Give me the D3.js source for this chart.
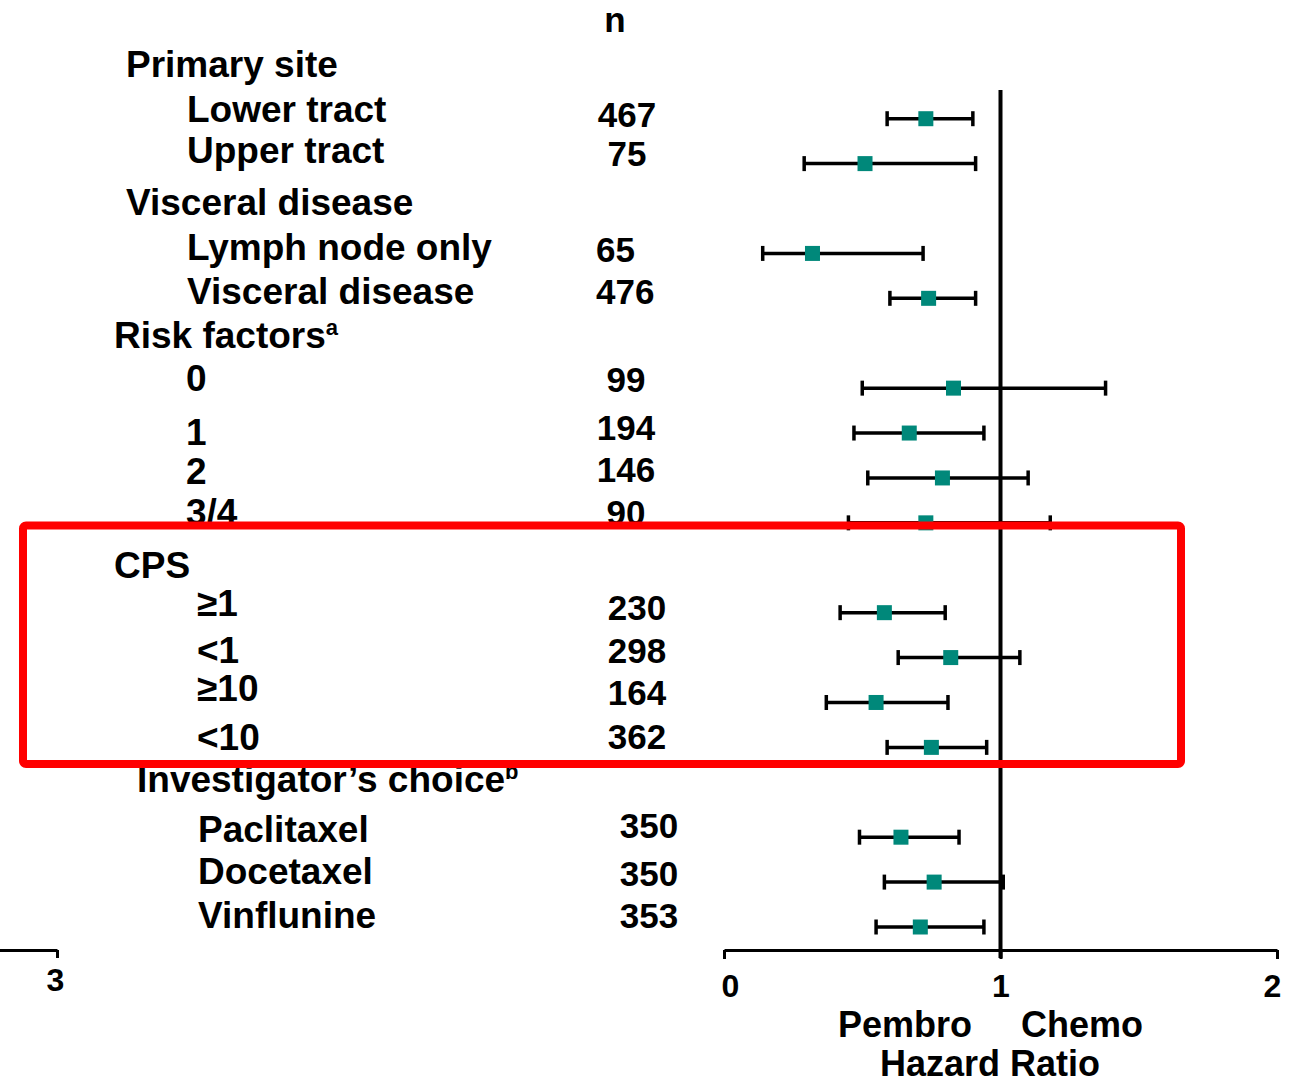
<!DOCTYPE html>
<html>
<head>
<meta charset="utf-8">
<script src="https://cdn.jsdelivr.net/npm/d3@7"></script>
<style>
  body { margin: 0; background: #fff; }
  text { font-family: "Liberation Sans", Arial, sans-serif; font-weight: bold; fill: #000; }
</style>
</head>
<body>
<div id="chart-area"></div>
<script>
// rows of the forest plot, top to bottom
var rowLabels = ["Primary site", "Lower tract", "Upper tract",
    "Visceral disease", "Lymph node only", "Visceral disease",
    "Risk factors", "0", "1", "2", "3/4",
    "CPS", "≥1", "<1", "≥10", "<10",
    "Investigator’s choice", "Paclitaxel", "Docetaxel", "Vinflunine"];
var rowSup = [null, null, null, null, null, null, "a", null, null, null, null,
    null, null, null, null, null, "b", null, null, null];
var rowSection = [0,0,0, 1,1,1, 2,2,2,2,2, 3,3,3,3,3, 4,4,4,4];
var isHeader = [1,0,0, 1,0,0, 1,0,0,0,0, 1,0,0,0,0, 1,0,0,0];

var nValues = [null, 467, 75, null, 65, 476, null, 99, 194, 146, 90,
    null, 230, 298, 164, 362, null, 350, 350, 353];
var hrValues = [null, 0.73, 0.51, null, 0.32, 0.74, null, 0.83, 0.67, 0.79, 0.73,
    null, 0.58, 0.82, 0.55, 0.75, null, 0.64, 0.76, 0.71];
var ciLower = [null, 0.59, 0.29, null, 0.14, 0.60, null, 0.50, 0.47, 0.52, 0.45,
    null, 0.42, 0.63, 0.37, 0.59, null, 0.49, 0.58, 0.55];
var ciUpper = [null, 0.90, 0.91, null, 0.72, 0.91, null, 1.38, 0.94, 1.10, 1.18,
    null, 0.80, 1.07, 0.81, 0.95, null, 0.85, 1.01, 0.94];

var xTicks = [0, 1, 2];

// layout per section (text placement, the slide is a bit uneven)
var headerX = [126, 126, 114, 114, 137];
var itemX = [187, 187, 186, 197, 198];
var nX = [627, 596, 626, 637, 649];
var nAnchor = ["middle", "start", "middle", "middle", "middle"];
var labelNudge = [-1,-1,-5,2,3,2,1,-1,8,2,-2,6,-1,1,-5,-1,-4,1,-2,-3];
var nNudge = [0,2,-4,0,3,0,0,-2,1,-2,-4,0,1,-1,-3,-4,0,-5,-2,-5];

var width = 1292, height = 1084;

var svg = d3.select("#chart-area")
    .append("svg")
    .attr("width", width)
    .attr("height", height);

var rows = rowLabels.map(function(d, i) {
    return { i: i, label: d, sup: rowSup[i], sec: rowSection[i], header: isHeader[i],
             n: nValues[i], hr: hrValues[i], lo: ciLower[i], hi: ciUpper[i] };
});

var x = d3.scaleLinear().domain([0, 2]).range([724, 1277]);
var y = d3.scalePoint().domain(d3.range(rows.length)).range([73.8, 927]);

// reference line at HR = 1
svg.append("line")
    .attr("x1", x(1)).attr("x2", x(1))
    .attr("y1", 90).attr("y2", 958)
    .attr("stroke", "#000")
    .attr("stroke-width", 4);

// main axis
var xAxisCall = d3.axisBottom(x)
    .tickValues(xTicks)
    .tickSizeInner(9)
    .tickSizeOuter(0)
    .tickFormat(d3.format("d"));
var xAxis = svg.append("g")
    .attr("class", "x-axis")
    .attr("transform", "translate(0,950)")
    .call(xAxisCall);
xAxis.select(".domain").attr("stroke", "#000").attr("stroke-width", 3);
xAxis.selectAll(".tick line").attr("stroke", "#000").attr("stroke-width", 3);
xAxis.selectAll(".tick text")
    .attr("x", function(d) { return d === 0 ? 6 : (d === 2 ? -5 : 0); })
    .attr("y", 24)
    .attr("font-size", "32px")
    .attr("font-family", "Liberation Sans, Arial, sans-serif")
    .attr("font-weight", "bold")
    .attr("fill", "#000");

// stray axis fragment at the left edge
var x2 = d3.scaleLinear().domain([2, 3]).range([-200, 57]);
var leftAxis = svg.append("g")
    .attr("transform", "translate(0,950)")
    .call(d3.axisBottom(x2).tickValues([3]).tickFormat(d3.format("d"))
        .tickSizeInner(8).tickSizeOuter(0));
leftAxis.select(".domain").attr("stroke", "#000").attr("stroke-width", 3);
leftAxis.selectAll(".tick line").attr("stroke", "#000").attr("stroke-width", 3);
leftAxis.selectAll(".tick text")
    .attr("x", -2)
    .attr("y", 18)
    .attr("font-size", "32px")
    .attr("font-family", "Liberation Sans, Arial, sans-serif")
    .attr("font-weight", "bold")
    .attr("fill", "#000");

// row labels
var labels = svg.selectAll(".row-label")
    .data(rows)
    .enter()
    .append("text")
    .attr("class", "row-label")
    .attr("x", function(d) { return d.header ? headerX[d.sec] : itemX[d.sec]; })
    .attr("y", function(d) { return y(d.i) + 4 + labelNudge[d.i]; })
    .attr("font-size", "37px")
    .text(function(d) { return d.label; });
labels.filter(function(d) { return d.sup; })
    .append("tspan")
    .attr("font-size", "22px")
    .attr("dy", -13)
    .text(function(d) { return d.sup; });

// n column
svg.append("text")
    .attr("x", 615)
    .attr("y", 32)
    .attr("text-anchor", "middle")
    .attr("font-size", "35px")
    .text("n");

var data = rows.filter(function(d) { return d.hr !== null; });

svg.selectAll(".n-value")
    .data(data)
    .enter()
    .append("text")
    .attr("class", "n-value")
    .attr("x", function(d) { return nX[d.sec]; })
    .attr("y", function(d) { return y(d.i) + 6 + nNudge[d.i]; })
    .attr("text-anchor", function(d) { return nAnchor[d.sec]; })
    .attr("font-size", "35px")
    .text(function(d) { return d.n; });

// confidence intervals
var ci = svg.selectAll(".ci")
    .data(data)
    .enter()
    .append("g")
    .attr("class", "ci")
    .attr("stroke", "#000")
    .attr("stroke-width", 3.5);
ci.append("line")
    .attr("x1", function(d) { return x(d.lo); })
    .attr("x2", function(d) { return x(d.hi); })
    .attr("y1", function(d) { return y(d.i); })
    .attr("y2", function(d) { return y(d.i); });
ci.append("line")
    .attr("x1", function(d) { return x(d.lo); })
    .attr("x2", function(d) { return x(d.lo); })
    .attr("y1", function(d) { return y(d.i) - 7.5; })
    .attr("y2", function(d) { return y(d.i) + 7.5; });
ci.append("line")
    .attr("x1", function(d) { return x(d.hi); })
    .attr("x2", function(d) { return x(d.hi); })
    .attr("y1", function(d) { return y(d.i) - 7.5; })
    .attr("y2", function(d) { return y(d.i) + 7.5; });

// point estimates
svg.selectAll(".hr-point")
    .data(data)
    .enter()
    .append("rect")
    .attr("class", "hr-point")
    .attr("x", function(d) { return x(d.hr) - 7.5; })
    .attr("y", function(d) { return y(d.i) - 7.5; })
    .attr("width", 15)
    .attr("height", 15)
    .attr("fill", "#00887a");

// axis captions
svg.append("text").attr("x", 838).attr("y", 1037).attr("font-size", "36px").text("Pembro");
svg.append("text").attr("x", 1021).attr("y", 1037).attr("font-size", "36px").text("Chemo");
svg.append("text").attr("x", 990).attr("y", 1076).attr("text-anchor", "middle")
    .attr("font-size", "36px").text("Hazard Ratio");

// highlight box around CPS
svg.append("rect")
    .attr("x", 23)
    .attr("y", 525.5)
    .attr("width", 1158)
    .attr("height", 238.5)
    .attr("rx", 3)
    .attr("fill", "none")
    .attr("stroke", "#ff0000")
    .attr("stroke-width", 8);
</script>
</body>
</html>
